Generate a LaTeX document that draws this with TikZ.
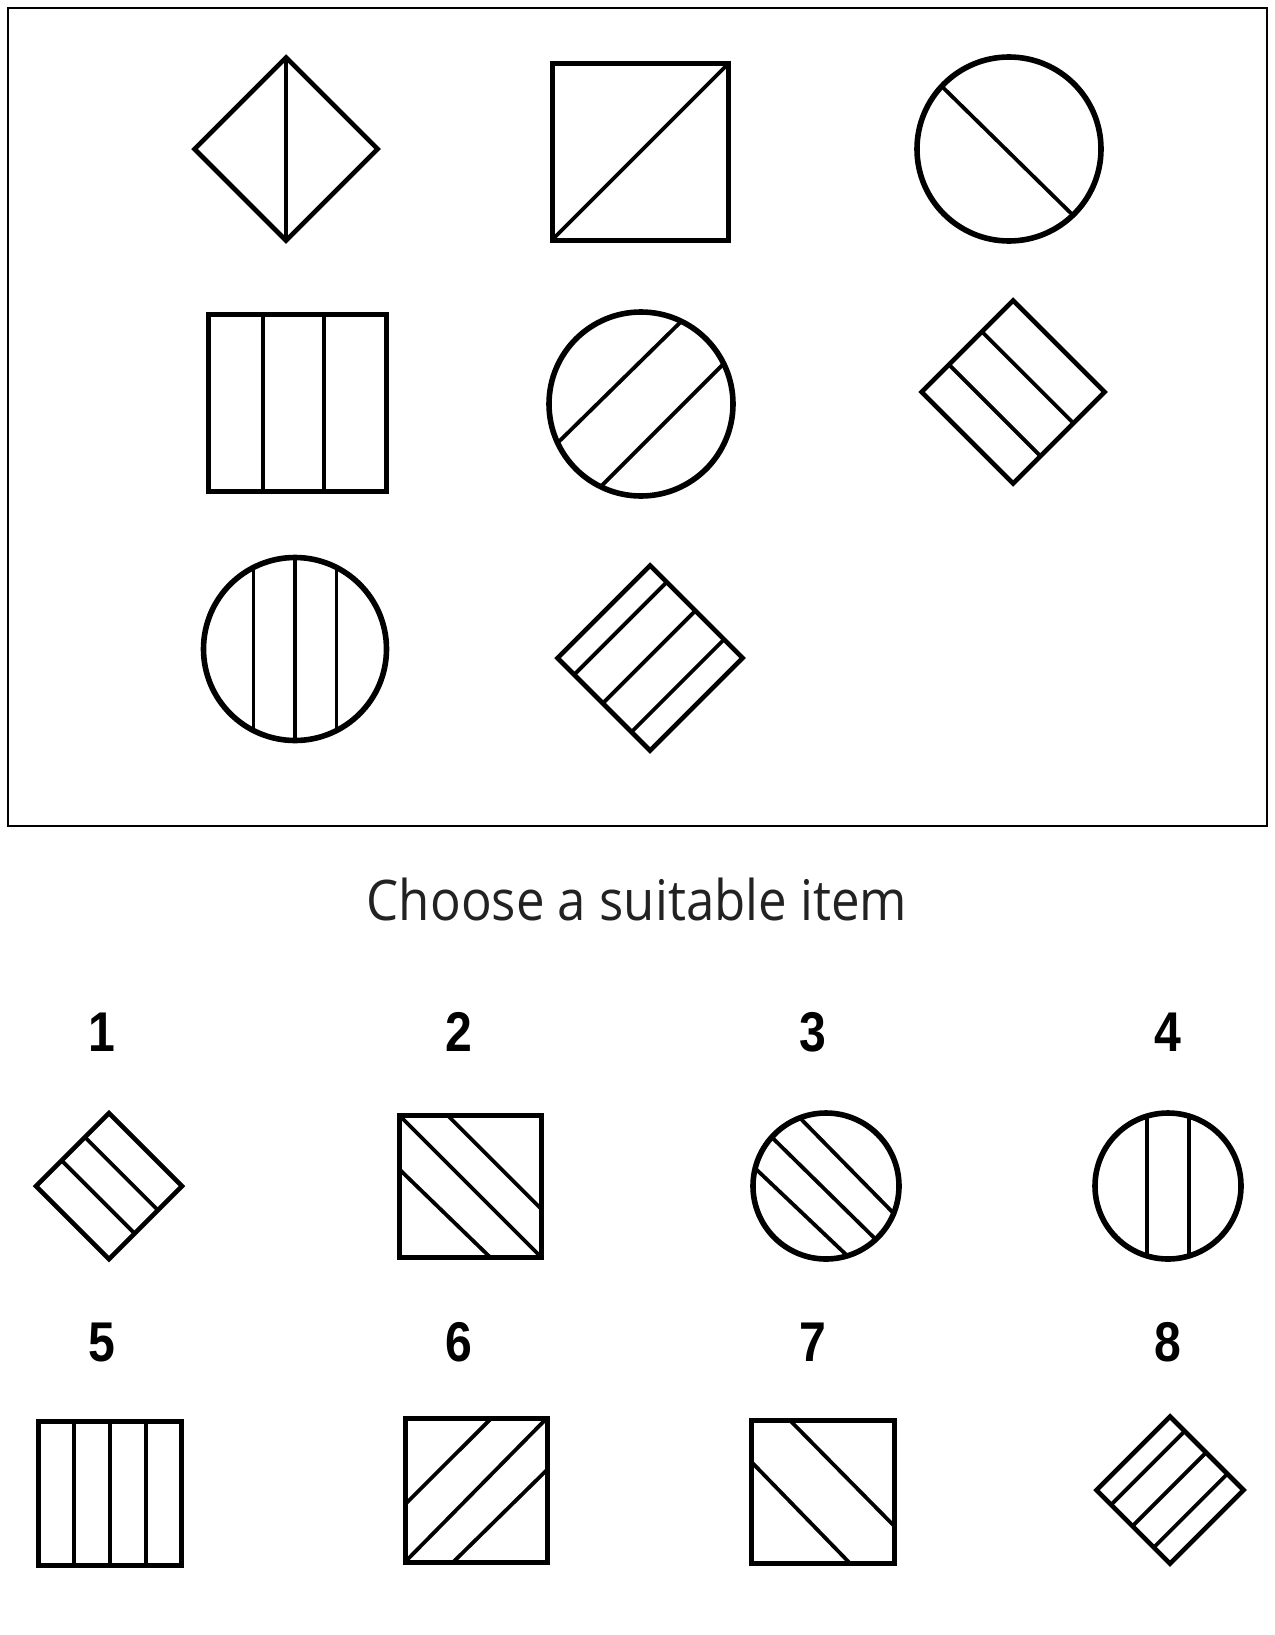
\documentclass[tikz,border=0pt]{standalone}
\usepackage{fontspec}
\usepackage{tikz}
\usetikzlibrary{calc}
\usetikzlibrary{shapes.geometric}

\newfontfamily\titlefont{Open Sans}[FakeStretch=0.91]
\newfontfamily\numberfont{Liberation Sans}[FakeStretch=0.86]
\definecolor{titlegray}{HTML}{222222}

\begin{document}
\begin{tikzpicture}[x=1pt, y=-1pt,
        frame_style/.style={draw=black, line width=2pt},
        circle_style/.style={circle, draw=black, line width=5.6pt, inner sep=0pt, outer sep=0pt},
        square_style/.style={rectangle, draw=black, line width=5pt, inner sep=0pt, outer sep=0pt},
        diamond_style/.style={diamond, aspect=1, draw=black, line width=4.6pt, inner sep=0pt, outer sep=0pt},
        stripe_style/.style={draw=black, line width=3.8pt},
        number_style/.style={font=\numberfont\bfseries\fontsize{56}{56}\selectfont, inner sep=0pt},
        title_style/.style={font=\titlefont\fontsize{56}{60}\selectfont, text=titlegray, inner sep=0pt}]

        \useasboundingbox (0,0) rectangle (1274,1635);

        \draw [frame_style] (8,8) rectangle (1267,826);

        % the matrix of figures
        \node [diamond_style, minimum width=183pt, minimum height=183pt](d1) at (286,149) {};

        \node [square_style, minimum width=176pt, minimum height=176pt](s1) at (640,152) {};

        \node [circle_style, minimum size=184pt](c1) at (1009,149) {};

        \node [square_style, minimum width=178pt, minimum height=177pt](s2) at (297,403) {};

        \node [circle_style, minimum size=184pt](c2) at (641,404) {};

        \node [diamond_style, minimum width=183pt, minimum height=183pt](d2) at (1013,392) {};

        \node [circle_style, minimum size=183pt](c3) at (295,649) {};

        \node [diamond_style, minimum width=185pt, minimum height=185pt](d3) at (650,658) {};

        \draw [stripe_style] (d1.north) -- (d1.south);

        \draw [stripe_style] (s1.south west) -- (s1.north east);

        \draw [stripe_style] (c1.137) -- (c1.-46);

        \draw [stripe_style] ($(s2.north west)!0.31!(s2.north east)$) -- ($(s2.south west)!0.31!(s2.south east)$);

        \draw [stripe_style] ($(s2.north west)!0.65!(s2.north east)$) -- ($(s2.south west)!0.65!(s2.south east)$);

        \draw [stripe_style] (c2.64) -- (c2.205);

        \draw [stripe_style] (c2.244) -- (c2.26);

        \draw [stripe_style] ($(d2.west)!0.3!(d2.north)$) -- ($(d2.south)!0.3!(d2.east)$);

        \draw [stripe_style] ($(d2.west)!0.66!(d2.north)$) -- ($(d2.south)!0.66!(d2.east)$);

        \draw [stripe_style] (c3.north) -- (c3.south);

        \draw [stripe_style] (c3.117) -- (c3.243);

        \draw [stripe_style] (c3.63) -- (c3.-63);

        \draw [stripe_style] ($(d3.west)!0.18!(d3.south)$) -- ($(d3.north)!0.18!(d3.east)$);

        \draw [stripe_style] ($(d3.west)!0.49!(d3.south)$) -- ($(d3.north)!0.49!(d3.east)$);

        \draw [stripe_style] ($(d3.west)!0.8!(d3.south)$) -- ($(d3.north)!0.8!(d3.east)$);

        \node [title_style, anchor=base](title) at (637,920) {Choose a suitable item};

        % the answers
        \node [number_style](n1) at (102,1032) {1};

        \node [number_style](n2) at (459,1032) {2};

        \node [number_style](n3) at (813,1032) {3};

        \node [number_style](n4) at (1168,1032) {4};

        \node [number_style](n5) at (102,1342) {5};

        \node [number_style](n6) at (459,1342) {6};

        \node [number_style](n7) at (813,1342) {7};

        \node [number_style](n8) at (1168,1342) {8};

        \node [diamond_style, minimum width=146pt, minimum height=146pt](a1) at (109,1186) {};

        \node [square_style, minimum width=142pt, minimum height=142pt](a2) at (470,1186) {};

        \node [circle_style, minimum size=146pt](a3) at (826,1186) {};

        \node [circle_style, minimum size=146pt](a4) at (1168,1186) {};

        \node [square_style, minimum width=143pt, minimum height=144pt](a5) at (110,1493) {};

        \node [square_style, minimum width=142pt, minimum height=144pt](a6) at (476,1490) {};

        \node [square_style, minimum width=143pt, minimum height=143pt](a7) at (823,1492) {};

        \node [diamond_style, minimum width=147pt, minimum height=147pt](a8) at (1170,1490) {};

        \draw [stripe_style] ($(a1.west)!0.35!(a1.north)$) -- ($(a1.south)!0.35!(a1.east)$);

        \draw [stripe_style] ($(a1.west)!0.67!(a1.north)$) -- ($(a1.south)!0.67!(a1.east)$);

        \draw [stripe_style] (a2.north west) -- (a2.south east);

        \draw [stripe_style] ($(a2.north west)!0.34!(a2.north east)$) -- ($(a2.north east)!0.66!(a2.south east)$);

        \draw [stripe_style] ($(a2.north west)!0.38!(a2.south west)$) -- ($(a2.south west)!0.64!(a2.south east)$);

        \draw [stripe_style] (a3.111) -- (a3.-22);

        \draw [stripe_style] (a3.138) -- (a3.-47);

        \draw [stripe_style] (a3.166) -- (a3.287);

        \draw [stripe_style] (a4.107) -- (a4.253);

        \draw [stripe_style] (a4.73) -- (a4.-73);

        \draw [stripe_style] ($(a5.north west)!0.25!(a5.north east)$) -- ($(a5.south west)!0.25!(a5.south east)$);

        \draw [stripe_style] ($(a5.north west)!0.5!(a5.north east)$) -- ($(a5.south west)!0.5!(a5.south east)$);

        \draw [stripe_style] ($(a5.north west)!0.75!(a5.north east)$) -- ($(a5.south west)!0.75!(a5.south east)$);

        \draw [stripe_style] (a6.south west) -- (a6.north east);

        \draw [stripe_style] ($(a6.north west)!0.6!(a6.south west)$) -- ($(a6.north west)!0.61!(a6.north east)$);

        \draw [stripe_style] ($(a6.south west)!0.34!(a6.south east)$) -- ($(a6.north east)!0.36!(a6.south east)$);

        \draw [stripe_style] ($(a7.north west)!0.27!(a7.north east)$) -- ($(a7.north east)!0.74!(a7.south east)$);

        \draw [stripe_style] ($(a7.north west)!0.29!(a7.south west)$) -- ($(a7.south west)!0.69!(a7.south east)$);

        \draw [stripe_style] ($(a8.west)!0.2!(a8.south)$) -- ($(a8.north)!0.2!(a8.east)$);

        \draw [stripe_style] ($(a8.west)!0.49!(a8.south)$) -- ($(a8.north)!0.49!(a8.east)$);

        \draw [stripe_style] ($(a8.west)!0.78!(a8.south)$) -- ($(a8.north)!0.78!(a8.east)$);

        \end{tikzpicture}
\end{document}
